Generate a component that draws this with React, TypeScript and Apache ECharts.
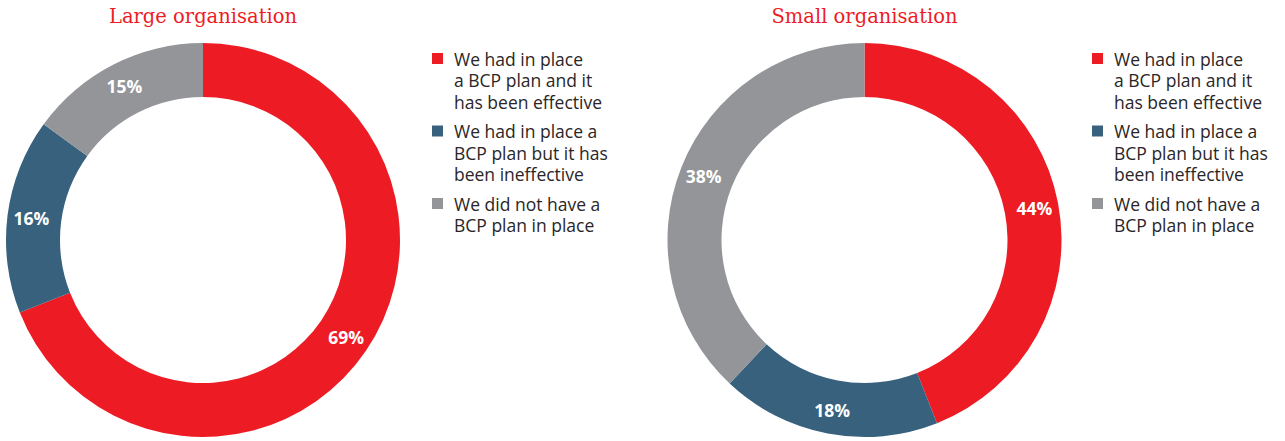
import React, { useEffect, useRef } from "react";
import * as echarts from "echarts";

const categories = [
  "We had in place a BCP plan and it has been effective",
  "We had in place a BCP plan but it has been ineffective",
  "We did not have a BCP plan in place",
];
const legendLines = [
  ["We had in place", "a BCP plan and it", "has been effective"],
  ["We had in place a", "BCP plan but it has", "been ineffective"],
  ["We did not have a", "BCP plan in place"],
];
const colors = ["#ED1C24", "#38617D", "#939598"];
const largeValues = [69, 16, 15];
const smallValues = [44, 18, 38];
const titles = ["Large organisation", "Small organisation"];

const LH = 21.5;
const MAXL = 3;

function legendText(name: string) {
  const lines = legendLines[categories.indexOf(name)];
  const before = new Array(MAXL - 1).fill("");
  const after = new Array(MAXL - lines.length).fill("");
  return [...before, ...lines, ...after].join("\n");
}

function makeLegend(left: number) {
  return {
    orient: "vertical",
    left,
    top: 58.5 - (MAXL - 0.5) * LH,
    padding: 0,
    itemWidth: 11,
    itemHeight: 11,
    itemGap: 72.5 - (2 * MAXL - 1) * LH,
    icon: "rect",
    selectedMode: false,
    data: categories,
    formatter: legendText,
    textStyle: {
      fontFamily: "Open Sans",
      fontSize: 17.5,
      lineHeight: LH,
      color: "#2A2627",
      padding: [0, 0, 0, 6],
    },
  };
}

function makeSeries(values: number[], cx: number) {
  return {
    type: "pie",
    center: [cx, 240],
    radius: [143, 197],
    startAngle: 90,
    clockwise: true,
    avoidLabelOverlap: false,
    label: {
      show: true,
      position: "inside",
      formatter: "{c}%",
      color: "#FFFFFF",
      fontFamily: "Open Sans",
      fontWeight: "bold",
      fontSize: 17.5,
    },
    labelLine: { show: false },
    emphasis: { disabled: true },
    data: categories.map((name, i) => ({
      name,
      value: values[i],
      itemStyle: { color: colors[i] },
    })),
  };
}

const titleStyle = {
  fontFamily: "DejaVu Serif",
  fontWeight: "normal",
  fontSize: 19.5,
  color: "#ED1C24",
};

export default function App() {
  const ref = useRef<HTMLDivElement>(null);
  useEffect(() => {
    document.body.style.margin = "0";
    const chart = echarts.init(ref.current!, undefined, { renderer: "svg" });
    chart.setOption({
      animation: false,
      title: [
        { text: titles[0], left: 203, top: 6, textAlign: "center", padding: 0, textStyle: titleStyle },
        { text: titles[1], left: 864.5, top: 6, textAlign: "center", padding: 0, textStyle: titleStyle },
      ],
      legend: [makeLegend(432), makeLegend(1092)],
      series: [makeSeries(largeValues, 203), makeSeries(smallValues, 864.5)],
    });
    return () => chart.dispose();
  }, []);
  return <div ref={ref} style={{ width: 1285, height: 441 }} />;
}
